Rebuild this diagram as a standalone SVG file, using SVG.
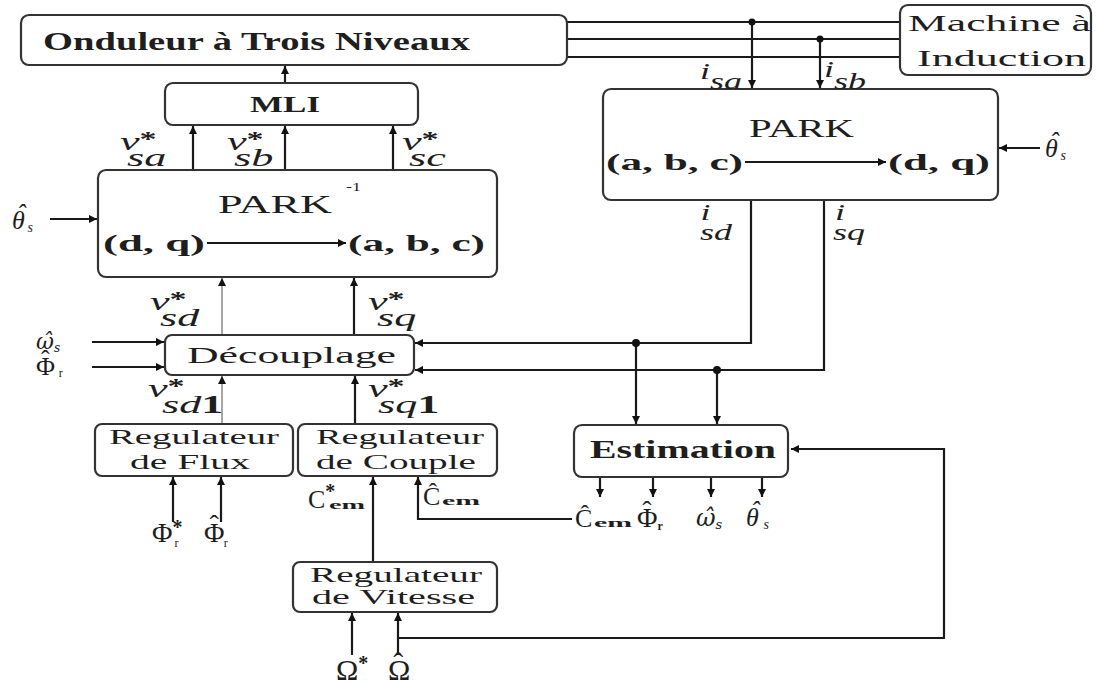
<svg xmlns="http://www.w3.org/2000/svg" width="1098" height="684" viewBox="0 0 1098 684">
<defs>
<style>
.box{fill:#fff;stroke:#333;stroke-width:2.2}
.ln{fill:none;stroke:#1a1a1a;stroke-width:2.2}
.thin{fill:none;stroke:#777;stroke-width:1.3}
text{font-family:"Liberation Serif","DejaVu Serif",serif;fill:#1e1e1e}
.b{font-weight:bold}
.i{font-style:italic}
.h{font-family:"DejaVu Serif",serif}
.st{font-style:normal;font-weight:bold;font-size:20px}
</style>
<marker id="ah" viewBox="0 0 10 10" refX="10" refY="5" markerWidth="8" markerHeight="8" markerUnits="userSpaceOnUse" orient="auto">
<path d="M0,0 L10,5 L0,10 z" fill="#111"/>
</marker>
</defs>
<rect width="1098" height="684" fill="#fff"/>

<g id="connectors">
<path class="ln" d="M285,83 V66" marker-end="url(#ah)"/>
<path class="ln" d="M193,170 V126" marker-end="url(#ah)"/>
<path class="ln" d="M285,170 V126" marker-end="url(#ah)"/>
<path class="ln" d="M393,170 V126" marker-end="url(#ah)"/>
<path class="ln" d="M567,22 H900 M567,39 H900 M567,57 H900"/>
<path class="ln" d="M752,22 V88" marker-end="url(#ah)"/>
<path class="ln" d="M820,39 V88" marker-end="url(#ah)"/>
<path class="ln" d="M1040,148 H999" marker-end="url(#ah)"/>
<path class="ln" d="M751,200 V343 H415" marker-end="url(#ah)"/>
<path class="ln" d="M824,200 V370 H415" marker-end="url(#ah)"/>
<path class="ln" d="M636,343 V424" marker-end="url(#ah)"/>
<path class="ln" d="M717,370 V424" marker-end="url(#ah)"/>
<path class="ln" d="M50,219 H97" marker-end="url(#ah)"/>
<path class="thin" d="M222,335 V278" marker-end="url(#ah)"/>
<path class="ln" d="M354,335 V278" marker-end="url(#ah)"/>
<path class="ln" d="M92,342 H164" marker-end="url(#ah)"/>
<path class="ln" d="M92,367 H164" marker-end="url(#ah)"/>
<path class="thin" d="M222,424 V376" marker-end="url(#ah)"/>
<path class="ln" d="M355,424 V376" marker-end="url(#ah)"/>
<path class="ln" d="M173,522 V477" marker-end="url(#ah)"/>
<path class="ln" d="M221,522 V477" marker-end="url(#ah)"/>
<path class="ln" d="M373,561 V477" marker-end="url(#ah)"/>
<path class="ln" d="M572,519 H418 V477" marker-end="url(#ah)"/>
<path class="ln" d="M600,477 V497" marker-end="url(#ah)"/>
<path class="ln" d="M653,477 V497" marker-end="url(#ah)"/>
<path class="ln" d="M711,477 V497" marker-end="url(#ah)"/>
<path class="ln" d="M762,477 V497" marker-end="url(#ah)"/>
<path class="ln" d="M398,638 H944 V449 H791" marker-end="url(#ah)"/>
<path class="ln" d="M398,655 V613" marker-end="url(#ah)"/>
<path class="ln" d="M352,655 V613" marker-end="url(#ah)"/>
<circle cx="752" cy="22" r="3.5" fill="#111"/>
<circle cx="820" cy="39" r="3.5" fill="#111"/>
<circle cx="636" cy="343" r="4" fill="#111"/>
<circle cx="717" cy="370" r="4" fill="#111"/>
</g>

<g id="onduleur">
<rect class="box" x="21" y="15" width="546" height="50" rx="8"/>
<text class="b" x="43" y="50" font-size="25" textLength="427" lengthAdjust="spacingAndGlyphs">Onduleur à Trois Niveaux</text>
</g>

<g id="machine">
<rect class="box" x="900" y="5" width="191" height="70" rx="8"/>
<text x="908" y="31" font-size="24" textLength="183" lengthAdjust="spacingAndGlyphs">Machine à</text>
<text x="917" y="66" font-size="24" textLength="169" lengthAdjust="spacingAndGlyphs">Induction</text>
</g>

<g id="mli">
<rect class="box" x="165" y="83" width="253" height="42" rx="8"/>
<text class="b" x="250" y="112" font-size="24" textLength="70" lengthAdjust="spacingAndGlyphs">MLI</text>
</g>

<g id="park">
<rect class="box" x="603" y="89" width="395" height="111" rx="8"/>
<text x="749" y="137" font-size="26" textLength="105" lengthAdjust="spacingAndGlyphs">PARK</text>
<text class="b" x="606" y="170" font-size="24" textLength="137" lengthAdjust="spacingAndGlyphs">(a, b, c)</text>
<path class="ln" d="M745,162 H886" marker-end="url(#ah)"/>
<text class="b" x="888" y="170" font-size="24" textLength="102" lengthAdjust="spacingAndGlyphs">(d, q)</text>
</g>

<g id="park-inv">
<rect class="box" x="98" y="170" width="399" height="107" rx="8"/>
<text x="218" y="213" font-size="26" textLength="114" lengthAdjust="spacingAndGlyphs">PARK</text>
<text x="346" y="191" font-size="13" textLength="15" lengthAdjust="spacingAndGlyphs">-1</text>
<text class="b" x="103" y="251" font-size="24" textLength="102" lengthAdjust="spacingAndGlyphs">(d, q)</text>
<path class="ln" d="M207,243 H346" marker-end="url(#ah)"/>
<text class="b" x="348" y="251" font-size="24" textLength="137" lengthAdjust="spacingAndGlyphs">(a, b, c)</text>
</g>

<g id="decouplage">
<rect class="box" x="165" y="335" width="249" height="40" rx="7"/>
<text x="187" y="363" font-size="24" textLength="209" lengthAdjust="spacingAndGlyphs">Découplage</text>
</g>

<g id="reg-flux">
<rect class="box" x="95" y="424" width="198" height="52" rx="7"/>
<text x="109" y="444" font-size="22" textLength="170" lengthAdjust="spacingAndGlyphs">Regulateur</text>
<text x="130" y="469" font-size="22" textLength="120" lengthAdjust="spacingAndGlyphs">de Flux</text>
</g>

<g id="reg-couple">
<rect class="box" x="298" y="424" width="199" height="52" rx="7"/>
<text x="316" y="444" font-size="22" textLength="168" lengthAdjust="spacingAndGlyphs">Regulateur</text>
<text x="316" y="469" font-size="22" textLength="160" lengthAdjust="spacingAndGlyphs">de Couple</text>
</g>

<g id="reg-vitesse">
<rect class="box" x="293" y="562" width="204" height="50" rx="7"/>
<text x="310" y="582" font-size="22" textLength="172" lengthAdjust="spacingAndGlyphs">Regulateur</text>
<text x="312" y="604" font-size="22" textLength="163" lengthAdjust="spacingAndGlyphs">de Vitesse</text>
</g>

<g id="estimation">
<rect class="box" x="574" y="425" width="214" height="52" rx="8"/>
<text class="b" x="590" y="458" font-size="26" textLength="186" lengthAdjust="spacingAndGlyphs">Estimation</text>
</g>

<g id="labels">
<text class="i" font-size="26" transform="translate(120,150) scale(1.7,1)">v<tspan class="st" dy="-4">*</tspan><tspan dx="-17.4" dy="20">sa</tspan></text>
<text class="i" font-size="26" transform="translate(227,150) scale(1.7,1)">v<tspan class="st" dy="-4">*</tspan><tspan dx="-17.4" dy="20">sb</tspan></text>
<text class="i" font-size="26" transform="translate(402,150) scale(1.7,1)">v<tspan class="st" dy="-4">*</tspan><tspan dx="-17.4" dy="20">sc</tspan></text>

<text class="i" font-size="24" transform="translate(700,79) scale(1.5,1)">i<tspan dy="10">sa</tspan></text>
<text class="i" font-size="24" transform="translate(824,77) scale(1.5,1)">i<tspan dy="12">sb</tspan></text>

<text class="i" font-size="24" transform="translate(700,220) scale(1.5,1)">i<tspan dx="-7" dy="20">sd</tspan></text>
<text class="i" font-size="24" transform="translate(833,220) scale(1.5,1)">i<tspan dx="-8" dy="20">sq</tspan></text>

<text class="i" x="1045" y="157" font-size="26">θ<tspan dx="-8" dy="-7">ˆ</tspan><tspan dx="2" dy="10" font-size="14">s</tspan></text>
<text class="i" x="12" y="229" font-size="26">θ<tspan dx="-8" dy="-7">ˆ</tspan><tspan dx="2" dy="10" font-size="14">s</tspan></text>

<text class="i" font-size="26" transform="translate(150,310) scale(1.7,1)">v<tspan class="st" dy="-4">*</tspan><tspan dx="-15.6" dy="20">sd</tspan></text>
<text class="i" font-size="26" transform="translate(368,310) scale(1.7,1)">v<tspan class="st" dy="-4">*</tspan><tspan dx="-16.2" dy="20">sq</tspan></text>

<text class="i h" x="36" y="349" font-size="22">ω̂<tspan dy="3" font-size="12">s</tspan></text>
<text x="36" y="375" font-size="26">Φ<tspan dx="-14" dy="-7">ˆ</tspan><tspan dx="9" dy="9" font-size="12">r</tspan></text>

<text class="i" font-size="26" transform="translate(148,397) scale(1.7,1)">v<tspan class="st" dy="-4">*</tspan><tspan dx="-13.3" dy="20">sd</tspan><tspan class="b" font-style="normal">1</tspan></text>
<text class="i" font-size="26" transform="translate(368,397) scale(1.7,1)">v<tspan class="st" dy="-4">*</tspan><tspan dx="-15.6" dy="20">sq</tspan><tspan class="b" font-style="normal">1</tspan></text>

<text x="152" y="542" font-size="28">Φ<tspan class="st" dy="-8">*</tspan><tspan dx="-8" dy="13" font-size="12">r</tspan></text>
<text x="204" y="542" font-size="28">Φ<tspan dx="-15" dy="-8">ˆ</tspan><tspan dx="5" dy="13" font-size="12">r</tspan></text>

<text x="308" y="508" font-size="26">C<tspan class="st" dy="-10">*</tspan></text>
<text class="b" x="329" y="509" font-size="13" textLength="36" lengthAdjust="spacingAndGlyphs">em</text>
<text x="423" y="505" font-size="26">Ĉ</text>
<text class="b" x="442" y="505" font-size="13" textLength="38" lengthAdjust="spacingAndGlyphs">em</text>

<text x="575" y="527" font-size="26">Ĉ</text>
<text class="b" x="594" y="527" font-size="13" textLength="38" lengthAdjust="spacingAndGlyphs">em</text>
<text x="637" y="527" font-size="28">Φ<tspan dx="-15.3" dy="-7">ˆ</tspan><tspan class="b" dx="6" dy="10" font-size="12">r</tspan></text>
<text class="i h" x="696" y="526" font-size="24">ω̂<tspan dy="3" font-size="13">s</tspan></text>
<text class="i" x="746" y="526" font-size="26">θ<tspan dx="-8" dy="-7">ˆ</tspan><tspan dx="4" dy="10" font-size="14">s</tspan></text>

<text x="336" y="680" font-size="30">Ω<tspan class="st" dy="-10">*</tspan></text>
<text x="388" y="680" font-size="30">Ω<tspan dx="-17" dy="-7">ˆ</tspan></text>
</g>
</svg>
